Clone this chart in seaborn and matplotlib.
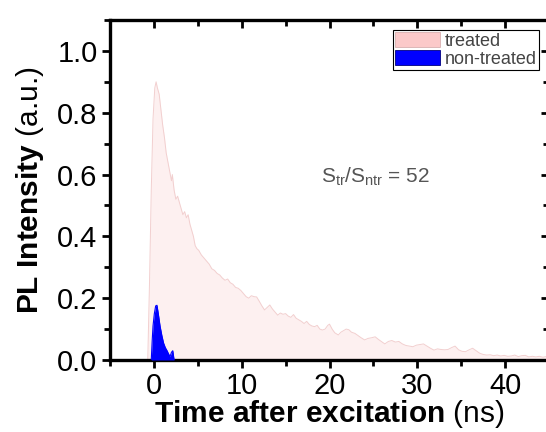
import matplotlib
matplotlib.use("Agg")
import matplotlib.pyplot as plt
import seaborn as sns
import pandas as pd
from matplotlib.patches import Patch
from matplotlib.ticker import MultipleLocator, FormatStrFormatter

# ---- data ----
treated_t = [-1.0, -0.7, -0.5, -0.3, -0.1, 0.1, 0.25, 0.4, 0.6, 0.8, 1.0, 1.2, 1.4, 1.6, 1.8,
             2.0, 2.1, 2.3, 2.5, 2.7, 2.9, 3.1, 3.3, 3.5, 3.7, 3.9, 4.1, 4.3, 4.5, 4.7, 4.9,
             5.1, 5.4, 5.7, 6.0, 6.3, 6.6, 6.9, 7.2, 7.5, 7.8, 8.1, 8.4, 8.7, 9.0, 9.3, 9.6,
             9.9, 10.2, 10.5, 10.8, 11.1, 11.4, 11.7, 12.0, 12.3, 12.6, 12.9, 13.2, 13.5,
             13.8, 14.1, 14.4, 14.7, 15.0, 15.3, 15.6, 15.9, 16.2, 16.5, 16.8, 17.1, 17.4,
             17.7, 18.0, 18.3, 18.6, 18.9, 19.2, 19.5, 19.8, 20.0, 20.3, 20.6, 21.0, 21.3,
             21.6, 21.9, 22.2, 22.5, 22.9, 23.2, 23.6, 24.0, 24.4, 24.8, 25.2, 25.6, 26.0,
             26.3, 26.7, 27.1, 27.5, 27.9, 28.3, 28.7, 29.1, 29.5, 29.9, 30.3, 30.7, 31.1,
             31.5, 31.9, 32.3, 32.7, 33.1, 33.5, 33.9, 34.3, 34.7, 35.1, 35.5, 35.9, 36.3,
             36.7, 37.1, 37.5, 37.9, 38.3, 38.7, 39.1, 39.5, 39.9, 40.3, 40.7, 41.1, 41.5,
             41.9, 42.3, 42.7, 43.1, 43.5, 43.9, 44.3, 44.7, 45.0]
treated_v = [0.0, 0.0, 0.25, 0.55, 0.78, 0.88, 0.90, 0.88, 0.86, 0.81, 0.76, 0.72, 0.67, 0.64, 0.61,
             0.58, 0.60, 0.55, 0.52, 0.53, 0.51, 0.49, 0.47, 0.48, 0.46, 0.47, 0.44, 0.42, 0.40, 0.37, 0.36,
             0.355, 0.34, 0.33, 0.32, 0.31, 0.295, 0.29, 0.28, 0.275, 0.265, 0.258, 0.262, 0.25, 0.245, 0.235, 0.232,
             0.225, 0.215, 0.205, 0.20, 0.208, 0.205, 0.204, 0.19, 0.175, 0.162, 0.17, 0.178, 0.165,
             0.155, 0.145, 0.152, 0.148, 0.15, 0.142, 0.138, 0.147, 0.135, 0.13, 0.125, 0.118, 0.125,
             0.115, 0.11, 0.108, 0.112, 0.10, 0.097, 0.10, 0.112, 0.116, 0.10, 0.088, 0.081, 0.09,
             0.095, 0.10, 0.098, 0.09, 0.086, 0.08, 0.072, 0.065, 0.07, 0.072, 0.075, 0.066, 0.058,
             0.052, 0.06, 0.063, 0.058, 0.06, 0.052, 0.047, 0.045, 0.043, 0.048, 0.05, 0.052, 0.045,
             0.038, 0.032, 0.036, 0.034, 0.033, 0.034, 0.04, 0.045, 0.033, 0.028, 0.027, 0.033, 0.038,
             0.03, 0.022, 0.018, 0.016, 0.017, 0.014, 0.016, 0.013, 0.015, 0.012, 0.013, 0.016, 0.011,
             0.014, 0.015, 0.01, 0.012, 0.01, 0.012, 0.009, 0.011, 0.01]

nontreated_t = [-0.3, -0.2, -0.1, 0.05, 0.2, 0.35, 0.5, 0.7, 0.9, 1.1, 1.3, 1.5, 1.7, 1.85,
                2.0, 2.15, 2.3]
nontreated_v = [0.0, 0.06, 0.11, 0.15, 0.175, 0.177, 0.15, 0.11, 0.08, 0.055, 0.04, 0.03,
                0.018, 0.012, 0.025, 0.03, 0.0]

series_labels = ["treated", "non-treated"]
annotation = r"S$_{\mathregular{tr}}$/S$_{\mathregular{ntr}}$ = 52"
x_label = r"$\mathbf{Time\ after\ excitation}$ (ns)"
y_label = r"$\mathbf{PL\ Intensity}$ (a.u.)"

# ---- style ----
sns.set_theme(style="ticks")
plt.rcParams["font.family"] = ["Liberation Sans", "DejaVu Sans"]
plt.rcParams["mathtext.fontset"] = "custom"
plt.rcParams["mathtext.rm"] = "Liberation Sans"
plt.rcParams["mathtext.bf"] = "Liberation Sans:bold"
plt.rcParams["mathtext.it"] = "Liberation Sans:italic"
plt.rcParams["axes.edgecolor"] = "black"
plt.rcParams["axes.labelcolor"] = "black"
plt.rcParams["xtick.color"] = "black"
plt.rcParams["ytick.color"] = "black"
plt.rcParams["text.color"] = "black"

fill_tr = "#fdf0f0"
line_tr = "#f2cfcf"
legend_tr = "#fbc9c9"
blue = "#0000ff"

df_tr = pd.DataFrame({"t": treated_t, "v": treated_v})
df_nt = pd.DataFrame({"t": nontreated_t, "v": nontreated_v})

fig = plt.figure(figsize=(5.46, 4.32), dpi=100)
ax = fig.add_axes([110 / 546, 72 / 432, 439 / 546, 340 / 432])

ax.fill_between(df_tr["t"], df_tr["v"], 0, color=fill_tr, lw=0, zorder=1)
sns.lineplot(data=df_tr, x="t", y="v", ax=ax, color=line_tr, lw=0.7, sort=False,
             estimator=None, zorder=2)
ax.fill_between(df_nt["t"], df_nt["v"], 0, color=blue, lw=0, zorder=3)
sns.lineplot(data=df_nt, x="t", y="v", ax=ax, color=blue, lw=0.8, sort=False,
             estimator=None, zorder=4)

ax.set_xlim(-5, 45)
ax.set_ylim(0, 1.1)
ax.xaxis.set_major_locator(MultipleLocator(10))
ax.xaxis.set_minor_locator(MultipleLocator(5))
ax.yaxis.set_major_locator(MultipleLocator(0.2))
ax.yaxis.set_minor_locator(MultipleLocator(0.1))
ax.yaxis.set_major_formatter(FormatStrFormatter("%.1f"))

ax.tick_params(which="major", direction="out", length=6, width=2, labelsize=21,
               colors="black", pad=3)
ax.tick_params(which="minor", direction="out", length=4, width=2, colors="black")
for s in ["left", "bottom"]:
    ax.spines[s].set_linewidth(2.4)
for s in ["top", "right"]:
    ax.spines[s].set_visible(False)

sec_x = ax.secondary_xaxis("top")
sec_x.xaxis.set_major_locator(MultipleLocator(10))
sec_x.xaxis.set_minor_locator(MultipleLocator(5))
sec_x.tick_params(which="major", direction="in", length=6, width=2, labeltop=False, colors="black")
sec_x.tick_params(which="minor", direction="in", length=4, width=2, colors="black")
sec_x.spines["top"].set_linewidth(2.4)

sec_y = ax.secondary_yaxis("right")
sec_y.yaxis.set_major_locator(MultipleLocator(0.2))
sec_y.yaxis.set_minor_locator(MultipleLocator(0.1))
sec_y.tick_params(which="major", direction="in", length=6, width=2, labelright=False, colors="black")
sec_y.tick_params(which="minor", direction="in", length=4, width=2, colors="black")
sec_y.spines["right"].set_linewidth(2.4)

ax.set_xlabel(x_label, fontsize=21.5, labelpad=-1.5)
ax.set_ylabel(y_label, fontsize=21.5, labelpad=8)

ax.text(19.0, 0.574, annotation, fontsize=15, color="#555555", ha="left", va="baseline")

handles = [Patch(facecolor=legend_tr, edgecolor="#d8b0b0", lw=0.6),
           Patch(facecolor=blue, edgecolor="#000080", lw=0.6)]
leg = ax.legend(handles, series_labels, loc="upper right",
                bbox_to_anchor=(539 / 546, 1 - 30 / 432), bbox_transform=fig.transFigure,
                fontsize=13, frameon=True, fancybox=False, framealpha=1,
                edgecolor="black", borderpad=0.1, labelspacing=0.05,
                handlelength=2.5, handleheight=0.9, handletextpad=0.3,
                borderaxespad=0)
leg.get_frame().set_linewidth(0.8)
for txt in leg.get_texts():
    txt.set_color("#444444")

fig.savefig("out.png", dpi=100)
